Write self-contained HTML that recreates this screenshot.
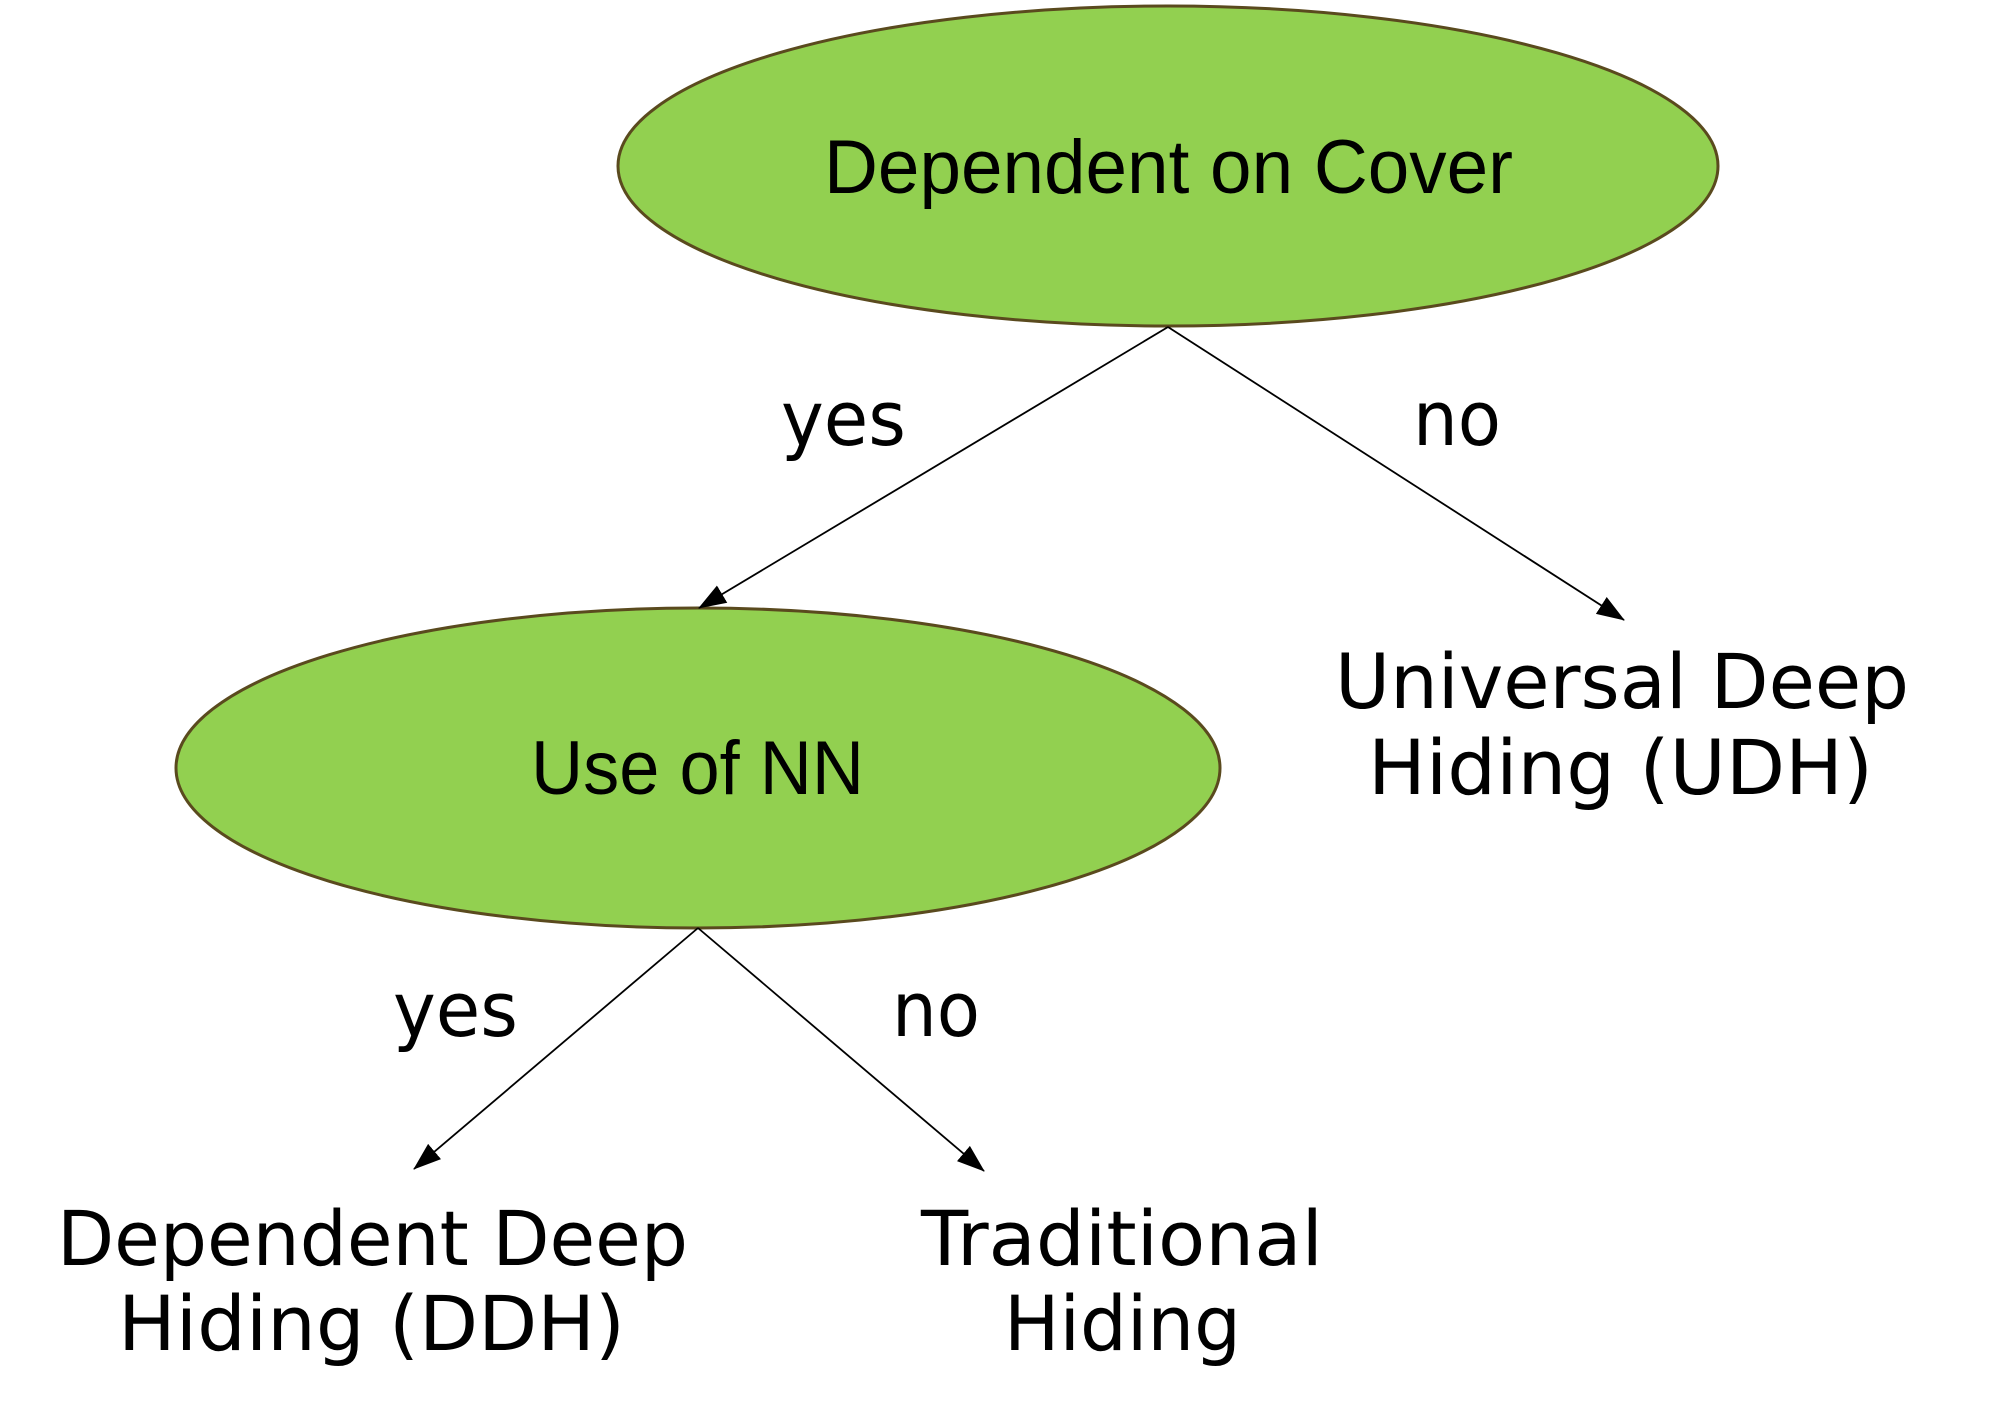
<!DOCTYPE html>
<html><head><style>html,body{margin:0;padding:0;background:#fff}</style></head>
<body>
<svg width="1993" height="1411" viewBox="0 0 1993 1411" xmlns="http://www.w3.org/2000/svg" font-family="'DejaVu Sans','Liberation Sans',sans-serif">
<defs><marker id="a" markerWidth="10" markerHeight="10" refX="9" refY="5" orient="auto" markerUnits="userSpaceOnUse" viewBox="0 0 10 10"><path d="M0,0 L10,5 L0,10 z" fill="#000"/></marker>
<marker id="b" markerWidth="28" markerHeight="28" refX="27" refY="14" orient="auto" markerUnits="userSpaceOnUse" viewBox="0 0 28 28"><path d="M0,4 L28,14 L0,24 z" fill="#000"/></marker></defs>
<ellipse cx="1168" cy="166" rx="550" ry="160" fill="#92D050" stroke="#5a4a1e" stroke-width="3"/>
<ellipse cx="698" cy="768" rx="522" ry="160" fill="#92D050" stroke="#5a4a1e" stroke-width="3"/>
<g stroke="#000" stroke-width="1.8" marker-end="url(#b)">
<line x1="1168" y1="327" x2="699" y2="608"/>
<line x1="1168" y1="327" x2="1624" y2="620"/>
<line x1="698" y1="928" x2="414" y2="1169"/>
<line x1="698" y1="928" x2="984" y2="1171"/>
</g>
<g font-family="'Liberation Sans',sans-serif" font-size="76" fill="#000">
<text x="824" y="193" textLength="689" lengthAdjust="spacingAndGlyphs">Dependent on Cover</text>
<text x="531" y="794" textLength="333" lengthAdjust="spacingAndGlyphs">Use of NN</text>
</g>
<g font-size="76" fill="#000">
<text x="781" y="445" textLength="125" lengthAdjust="spacingAndGlyphs">yes</text>
<text x="1413" y="445" textLength="88" lengthAdjust="spacingAndGlyphs">no</text>
<text x="393" y="1036" textLength="125" lengthAdjust="spacingAndGlyphs">yes</text>
<text x="892" y="1036" textLength="88" lengthAdjust="spacingAndGlyphs">no</text>
<text x="1335" y="708" textLength="574" lengthAdjust="spacingAndGlyphs">Universal Deep</text>
<text x="1368" y="794" textLength="505" lengthAdjust="spacingAndGlyphs">Hiding (UDH)</text>
<text x="57" y="1265" textLength="631" lengthAdjust="spacingAndGlyphs">Dependent Deep</text>
<text x="118" y="1350" textLength="507" lengthAdjust="spacingAndGlyphs">Hiding (DDH)</text>
<text x="921" y="1265" textLength="402" lengthAdjust="spacingAndGlyphs">Traditional</text>
<text x="1004" y="1350" textLength="237" lengthAdjust="spacingAndGlyphs">Hiding</text>
</g>
</svg>
</body></html>
